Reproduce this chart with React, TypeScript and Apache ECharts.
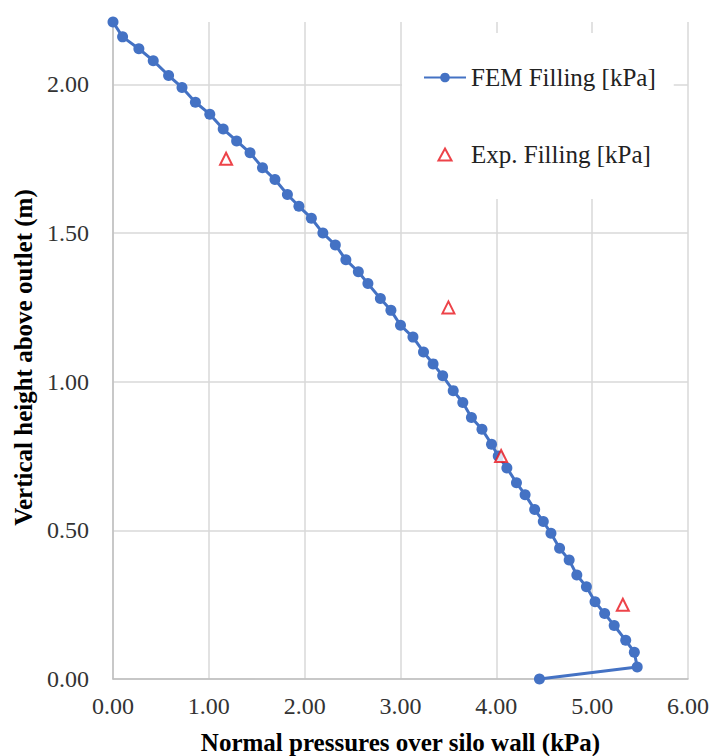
import React, { useEffect, useRef } from "react";
import * as echarts from "echarts";

// FEM filling: normal pressure (kPa) vs. vertical height above outlet (m)
const femPressure = [
  0.0, 0.1, 0.27, 0.42, 0.58, 0.72, 0.86, 1.01, 1.15, 1.29, 1.43, 1.56, 1.69,
  1.82, 1.94, 2.07, 2.19, 2.32, 2.43, 2.56, 2.66, 2.79, 2.9, 3.0, 3.13, 3.24,
  3.34, 3.44, 3.55, 3.65, 3.74, 3.85, 3.95, 4.02, 4.11, 4.21, 4.3, 4.4, 4.49,
  4.57, 4.66, 4.76, 4.84, 4.94, 5.03, 5.13, 5.23, 5.35, 5.44, 5.47, 4.45,
];
const femHeight = [
  2.21, 2.16, 2.12, 2.08, 2.03, 1.99, 1.94, 1.9, 1.85, 1.81, 1.77, 1.72, 1.68,
  1.63, 1.59, 1.55, 1.5, 1.46, 1.41, 1.37, 1.33, 1.28, 1.24, 1.19, 1.15, 1.1,
  1.06, 1.02, 0.97, 0.93, 0.88, 0.84, 0.79, 0.75, 0.71, 0.66, 0.62, 0.57, 0.53,
  0.49, 0.44, 0.4, 0.35, 0.31, 0.26, 0.22, 0.18, 0.13, 0.09, 0.04, 0.0,
];

// Experimental filling
const expPressure = [1.18, 3.5, 4.05, 5.32];
const expHeight = [1.75, 1.25, 0.75, 0.25];

const seriesNames = ["FEM Filling [kPa]", "Exp. Filling [kPa]"];
const xAxisTitle = "Normal pressures over silo wall (kPa)";
const yAxisTitle = "Vertical height above outlet (m)";

const SERIF = "'Liberation Serif', 'Times New Roman', serif";
const BLUE = "#4472C4";
const RED = "#E8141C";

export default function App() {
  const ref = useRef<HTMLDivElement>(null);

  useEffect(() => {
    if (!ref.current) return;
    const chart = echarts.init(ref.current, undefined, { renderer: "svg" });

    const femData = femPressure.map((x, i) => [x, femHeight[i]]);
    const expData = expPressure.map((x, i) => [x, expHeight[i]]);

    chart.setOption({
      animation: false,
      backgroundColor: "#ffffff",
      grid: {
        left: 113,
        right: 24,
        top: 22,
        bottom: 77,
        containLabel: false,
        outerBoundsMode: "none",
      },
      legend: {
        orient: "vertical",
        left: 402,
        top: 33,
        backgroundColor: "#ffffff",
        padding: [32, 18, 32, 21],
        itemGap: 52,
        itemWidth: 42,
        itemHeight: 12,
        symbolKeepAspect: true,
        textStyle: {
          fontFamily: SERIF,
          fontSize: 25,
          color: "#222",
          lineHeight: 22,
        },
        data: [
          { name: seriesNames[0] },
          {
            name: seriesNames[1],
            icon: "path://M6,0 L12,11 L0,11 Z",
            itemStyle: { color: "#ffffff", borderColor: RED, borderWidth: 2 },
          },
        ],
      },
      xAxis: {
        type: "value",
        min: 0,
        max: 6,
        interval: 1,
        name: xAxisTitle,
        nameLocation: "middle",
        nameGap: 51,
        nameTextStyle: {
          fontFamily: SERIF,
          fontSize: 25,
          fontWeight: "bold",
          color: "#000",
        },
        axisLine: { show: true, lineStyle: { color: "#BFBFBF", width: 1.5 } },
        axisTick: { show: false },
        axisLabel: {
          margin: 15,
          fontFamily: SERIF,
          fontSize: 24,
          color: "#333",
          formatter: (v: number) => v.toFixed(2),
        },
        splitLine: { show: true, lineStyle: { color: "#D9D9D9", width: 1.5 } },
      },
      yAxis: {
        type: "value",
        min: 0,
        max: 2.21,
        interval: 0.5,
        name: yAxisTitle,
        nameLocation: "middle",
        nameGap: 72,
        nameTextStyle: {
          fontFamily: SERIF,
          fontSize: 25,
          fontWeight: "bold",
          color: "#000",
          padding: [0, 14, 0, 0],
        },
        axisLine: { show: true, lineStyle: { color: "#BFBFBF", width: 1.5 } },
        axisTick: { show: false },
        axisLabel: {
          margin: 24,
          fontFamily: SERIF,
          fontSize: 24,
          color: "#333",
          showMaxLabel: false,
          formatter: (v: number) =>
            Math.abs(v / 0.5 - Math.round(v / 0.5)) < 1e-6 ? v.toFixed(2) : "",
        },
        splitLine: {
          show: true,
          showMaxLine: false,
          lineStyle: { color: "#D9D9D9", width: 1.5 },
        },
      },
      series: [
        {
          name: seriesNames[0],
          type: "line",
          data: femData,
          symbol: "circle",
          symbolSize: 11,
          showAllSymbol: true,
          lineStyle: { color: BLUE, width: 3 },
          itemStyle: { color: BLUE },
          z: 2,
        },
        {
          name: seriesNames[1],
          type: "scatter",
          data: expData,
          symbol: "triangle",
          symbolSize: 12,
          itemStyle: {
            color: "#ffffff",
            borderColor: RED,
            borderWidth: 2,
          },
          z: 3,
        },
      ],
    });

    return () => chart.dispose();
  }, []);

  return (
    <div
      ref={ref}
      style={{ position: "fixed", left: 0, top: 0, width: 712, height: 756 }}
    />
  );
}
